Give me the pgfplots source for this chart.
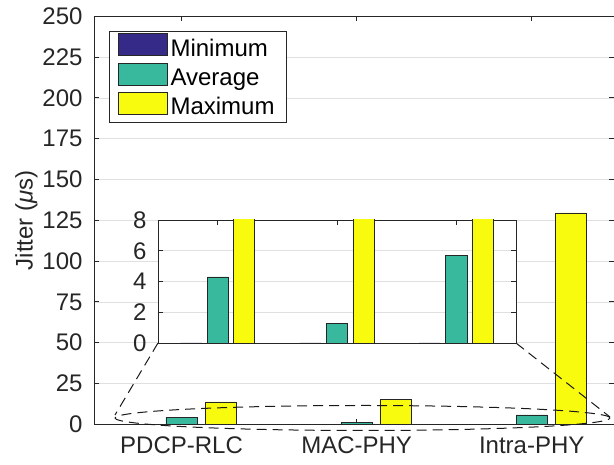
\documentclass[border=0pt]{standalone}
\usepackage{pgfplots}
\usepackage{pgfplotstable}
\pgfplotsset{compat=1.18}
\usepackage{fontspec}
\setmainfont{Liberation Sans}
\definecolor{cmin}{rgb}{0.2081,0.1663,0.5292}
\definecolor{cavg}{rgb}{0.2196,0.7216,0.6157}
\definecolor{cmax}{rgb}{0.9763,0.9831,0.0538}
\definecolor{axc}{rgb}{0.15,0.15,0.15}
\definecolor{gridc}{rgb}{0.88,0.88,0.88}
\pgfplotstableread{
x mn avg mx
1 0 4.3 13.7
2 0 1.3 15.3
3 0 5.7 129.5
}\jit
\newcommand{\fs}{\fontsize{24}{28}\selectfont}
\pgfplotsset{
  common/.style={
    scale only axis,
    axis line style={axc, line width=0.8pt},
    tick style={axc, line width=0.8pt},
    major tick length=5pt,
    tick label style={font=\fs, text=axc},
    label style={font=\fs, text=axc},
    /pgf/number format/assume math mode=true,
    ymajorgrids, grid style={gridc, line width=0.7pt},
    yticklabel style={xshift=-8pt},
  },
  barst/.style={ybar, bar width=0.178, draw=black!85, line width=0.6pt},
}
\tikzset{dsh/.style={black!90, line width=1pt, dash pattern=on 10pt off 6pt}}
\begin{document}
\begin{tikzpicture}
\path[use as bounding box] (-94pt,-40.7pt) rectangle (520pt,424.3pt);
\begin{axis}[common,
  width=520pt, height=408pt,
  xmin=0.5, xmax=3.47, ymin=0, ymax=250,
  xtick={1,2,3}, xticklabels={PDCP-RLC,MAC-PHY,Intra-PHY},
  xticklabel style={yshift=-9pt},
  ytick={0,25,...,250},
  ylabel={Jitter ({\itshape μ}s)},
  ylabel style={at={(axis description cs:-0.13,0.5)}, anchor=center},
  legend style={at={(0.0289,0.964)}, anchor=north west, draw=axc, line width=0.8pt,
    fill=white, font=\fs, inner xsep=9pt, inner ysep=2pt, row sep=0.5pt, column sep=0pt,
    nodes={inner xsep=2.5pt, inner ysep=1pt, text height=18pt, text depth=5pt, text=black}},
  legend cell align=left,
]
\addlegendimage{legend image code/.code={\draw[fill=cmin, draw=black!85, line width=0.6pt] (6pt,-6pt) rectangle (55pt,16pt);}}
\addlegendentry{Minimum}
\addlegendimage{legend image code/.code={\draw[fill=cavg, draw=black!85, line width=0.6pt] (6pt,-6pt) rectangle (55pt,16pt);}}
\addlegendentry{Average}
\addlegendimage{legend image code/.code={\draw[fill=cmax, draw=black!85, line width=0.6pt] (6pt,-6pt) rectangle (55pt,16pt);}}
\addlegendentry{Maximum}
\addplot[barst, bar shift=-0.222, fill=cmin, forget plot] table[x=x, y=mn] {\jit};
\addplot[barst, bar shift=0, fill=cavg, forget plot] table[x=x, y=avg] {\jit};
\addplot[barst, bar shift=0.222, fill=cmax, forget plot] table[x=x, y=mx] {\jit};
\end{axis}
\draw[dsh] (64pt,81.3pt) -- (21pt,9.3pt);
\draw[dsh] (422pt,81.3pt) -- (516pt,7.3pt);
\draw[dsh] (268.5pt,6.3pt) ellipse [x radius=247.5pt, y radius=12.5pt];
\begin{axis}[common,
  at={(64pt,81.3pt)}, anchor=south west,
  width=358pt, height=123pt,
  xmin=0.5, xmax=3.5, ymin=0, ymax=8,
  xtick={1,2,3}, xticklabels={},
  ytick={0,2,...,8},
  axis background/.style={fill=white},
]
\addplot[barst, bar shift=-0.222, fill=cmin] table[x=x, y=mn] {\jit};
\addplot[barst, bar shift=0, fill=cavg] table[x=x, y=avg] {\jit};
\addplot[barst, bar shift=0.222, fill=cmax] table[x=x, y=mx] {\jit};
\end{axis}
\end{tikzpicture}
\end{document}
